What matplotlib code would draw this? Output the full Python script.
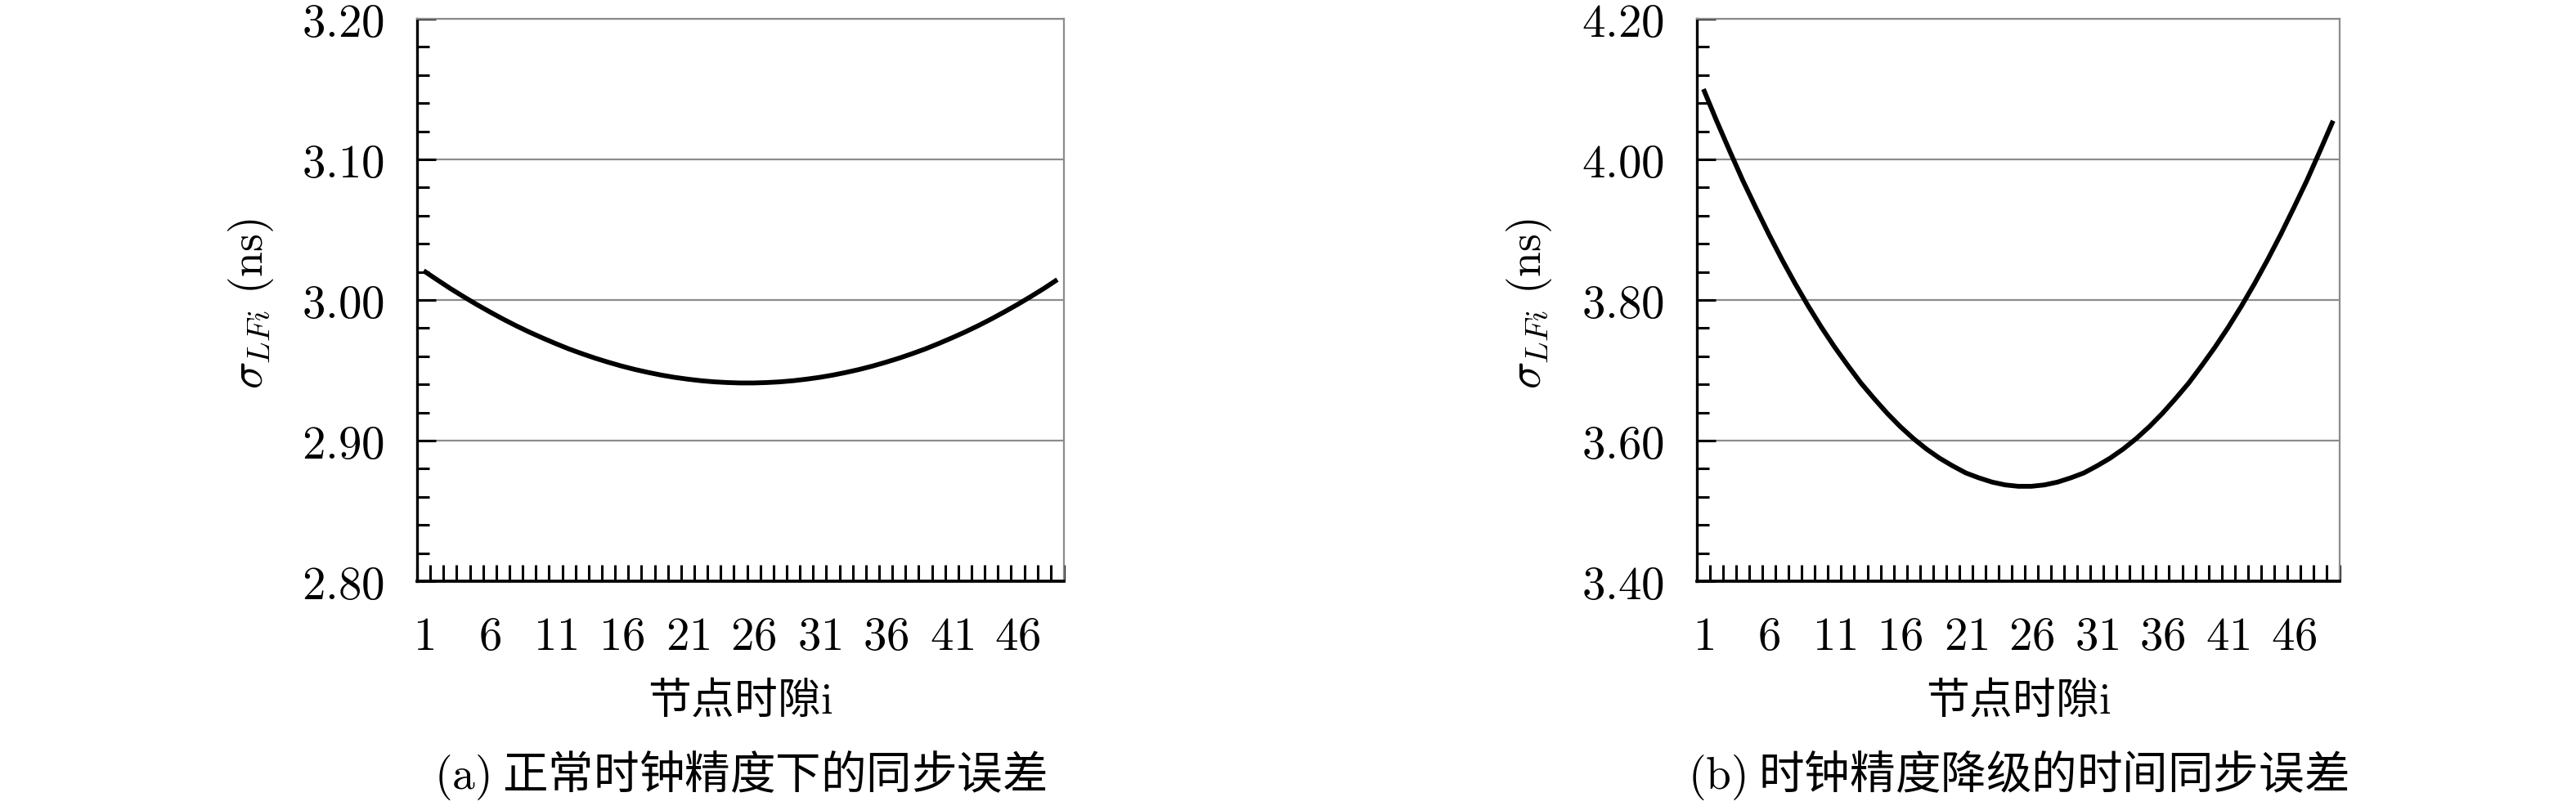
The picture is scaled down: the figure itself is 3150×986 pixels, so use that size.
import matplotlib
matplotlib.use("Agg")
import matplotlib.pyplot as plt
from matplotlib.ticker import MultipleLocator, FixedLocator

plt.rcParams["mathtext.fontset"] = "cm"
CJK = ["Noto Sans CJK SC", "DejaVu Sans"]

# ---- data ----
slots = list(range(1, 50))
sigma_normal = [3.0208, 3.0145, 3.0083, 3.0025, 2.9969, 2.9916, 2.9865, 2.9817, 2.9772, 2.9730,
                2.9690, 2.9652, 2.9618, 2.9586, 2.9557, 2.9530, 2.9506, 2.9485, 2.9466, 2.9450,
                2.9437, 2.9426, 2.9418, 2.9413, 2.9410, 2.9410, 2.9413, 2.9418, 2.9426, 2.9437,
                2.9450, 2.9466, 2.9485, 2.9506, 2.9530, 2.9557, 2.9586, 2.9618, 2.9652, 2.9690,
                2.9730, 2.9772, 2.9817, 2.9865, 2.9916, 2.9969, 3.0025, 3.0083, 3.0145]
sigma_degraded = [4.100, 4.055, 4.012, 3.970, 3.931, 3.893, 3.857, 3.823, 3.791, 3.761,
                  3.733, 3.707, 3.682, 3.660, 3.639, 3.620, 3.603, 3.588, 3.575, 3.564,
                  3.554, 3.547, 3.541, 3.537, 3.535, 3.535, 3.537, 3.541, 3.547, 3.554,
                  3.564, 3.575, 3.588, 3.603, 3.620, 3.639, 3.660, 3.682, 3.707, 3.733,
                  3.761, 3.791, 3.823, 3.857, 3.893, 3.931, 3.970, 4.012, 4.055]
xtick_values = [1, 6, 11, 16, 21, 26, 31, 36, 41, 46]
yticks_normal = [2.80, 2.90, 3.00, 3.10, 3.20]
yticks_degraded = [3.40, 3.60, 3.80, 4.00, 4.20]
xlabel_text = "节点时隙$\\mathrm{i}$"
ylabel_text = r"$\sigma_{LFi}\ \mathrm{(ns)}$"
caption_a = "$\\mathrm{(a)}$ 正常时钟精度下的同步误差"
caption_b = "$\\mathrm{(b)}$ 时钟精度降级的时间同步误差"

W, H = 3150, 987
fig = plt.figure(figsize=(W / 100, H / 100), dpi=100)

def rect(x0, x1, y0, y1):
    return [x0 / W, 1 - y1 / H, (x1 - x0) / W, (y1 - y0) / H]

ax1 = fig.add_axes(rect(510, 1301, 24, 712))
ax2 = fig.add_axes(rect(2075, 2861, 24, 712))

GRID = "#8c8c8c"

def style(ax, yt, minor):
    ax.set_xlim(0.5, len(slots) + 0.5)
    ax.set_ylim(yt[0], yt[-1])
    ax.set_xticks(xtick_values)
    ax.set_xticklabels([f"${v}$" for v in xtick_values])
    ax.xaxis.set_minor_locator(FixedLocator([k + 0.5 for k in range(0, len(slots) + 1)]))
    ax.tick_params(axis="x", which="major", length=0, pad=29, labelsize=41)
    ax.tick_params(axis="x", which="minor", direction="in", length=14.4, width=2.2, color="black")
    ax.set_yticks(yt)
    ax.set_yticklabels([f"${v:.2f}$" for v in yt])
    ax.yaxis.set_minor_locator(MultipleLocator(minor))
    ax.tick_params(axis="y", which="major", direction="in", length=16.5, width=2.2,
                   pad=29, labelsize=41, color="black")
    ax.tick_params(axis="y", which="minor", direction="in", length=10.8, width=2.2, color="black")
    ax.yaxis.grid(True, which="major", color=GRID, lw=1.6)
    ax.set_axisbelow(True)
    for s in ("top", "right"):
        ax.spines[s].set_color(GRID)
        ax.spines[s].set_linewidth(1.6)
    ax.spines["left"].set_linewidth(2.4)
    ax.spines["bottom"].set_linewidth(2.7)

ax1.plot(slots, sigma_normal, color="black", lw=4.2, solid_capstyle="butt",
         solid_joinstyle="round", zorder=3)
ax2.plot(slots, sigma_degraded, color="black", lw=4.2, solid_capstyle="butt",
         solid_joinstyle="round", zorder=3)
style(ax1, yticks_normal, 0.02)
style(ax2, yticks_degraded, 0.04)

for cx, ylx, cap in ((905, 307, caption_a), (2468, 1870, caption_b)):
    fig.text(cx / W, 1 - 857 / H, xlabel_text, family=CJK, fontsize=38,
             ha="center", va="center")
    fig.text(cx / W, 1 - 948 / H, cap, family=CJK, fontsize=40,
             ha="center", va="center")
    fig.text(ylx / W, 1 - 372 / H, ylabel_text, fontsize=40, rotation=90,
             ha="center", va="center")

fig.savefig("out.png", dpi=100, facecolor="white")
